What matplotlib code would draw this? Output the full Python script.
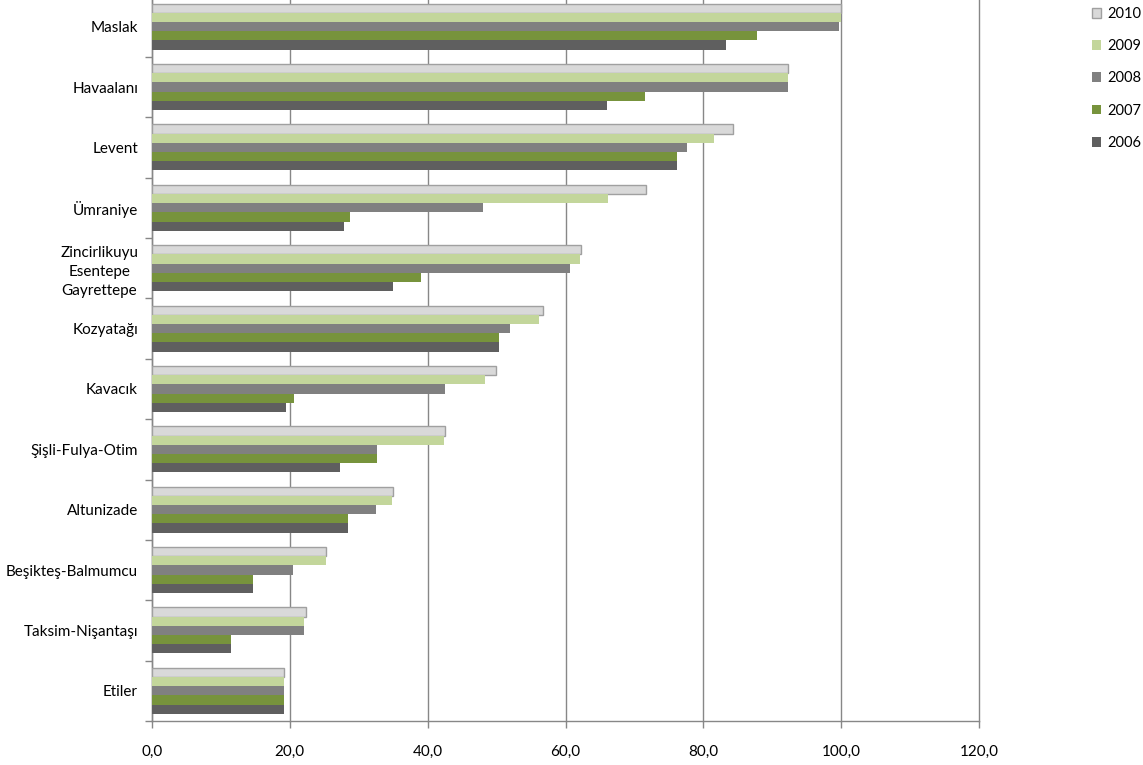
import matplotlib.pyplot as plt
import numpy as np
from matplotlib.ticker import FuncFormatter, FixedLocator

plt.rcParams['font.family'] = ['Lato', 'DejaVu Sans']

# office districts, top to bottom
districts = ['Maslak', 'Havaalanı', 'Levent', 'Ümraniye',
             'Zincirlikuyu\nEsentepe\nGayrettepe', 'Kozyatağı', 'Kavacık',
             'Şişli-Fulya-Otim', 'Altunizade', 'Beşikteş-Balmumcu',
             'Taksim-Nişantaşı', 'Etiler']

v2010 = [100.0, 92.3, 84.3, 71.7, 62.2, 56.7, 49.9, 42.5, 34.9, 25.2, 22.4, 19.1]
v2009 = [100.0, 92.3, 81.5, 66.2, 62.1, 56.2, 48.3, 42.3, 34.8, 25.3, 22.1, 19.1]
v2008 = [99.7, 92.3, 77.7, 48.0, 60.7, 51.9, 42.5, 32.6, 32.5, 20.4, 22.1, 19.1]
v2007 = [87.8, 71.5, 76.2, 28.8, 39.1, 50.3, 20.6, 32.6, 28.4, 14.7, 11.5, 19.1]
v2006 = [83.3, 66.0, 76.2, 27.9, 34.9, 50.3, 19.5, 27.3, 28.4, 14.7, 11.5, 19.1]

years = ['2010', '2009', '2008', '2007', '2006']
series = [v2010, v2009, v2008, v2007, v2006]
colors = ['#d9d9d9', '#c3d69b', '#808080', '#77933c', '#5f5f5f']
edges = ['#a0a0a0', 'none', 'none', 'none', 'none']

fig = plt.figure(figsize=(11.43, 7.65), dpi=100)
ax = fig.add_axes([152/1143, 44/765, 827/1143, 724.5/765])

y = np.arange(len(districts))
h = 0.152
handles = []
for k, (vals, c, ec, lab) in enumerate(zip(series, colors, edges, years)):
    b = ax.barh(y + (k - 2) * h, vals, height=h, color=c, edgecolor=ec,
                linewidth=1.0, label=lab, zorder=3)
    handles.append(b)

ax.set_xlim(0, 120)
ax.set_ylim(11.5, -0.5)

ax.xaxis.set_major_locator(FixedLocator(np.arange(0, 121, 20)))
ax.xaxis.set_major_formatter(FuncFormatter(lambda v, p: f'{v:.1f}'.replace('.', ',')))
ax.grid(axis='x', color='#878787', linewidth=1.0, zorder=0)
for gl in ax.get_xgridlines():
    gl.set_clip_on(False)

ax.set_yticks(y)
ax.set_yticklabels(districts)
ax.set_yticks(np.arange(-0.5, 12, 1), minor=True)
ax.tick_params(axis='y', which='major', length=0, pad=10, labelsize=11)
ax.tick_params(axis='y', which='minor', length=5, color='#878787', width=1)
ax.tick_params(axis='x', length=5, color='#878787', width=1, pad=12, labelsize=11)
for t in ax.get_yticklabels():
    if '\n' in t.get_text():
        t.set_multialignment('center')
        t.set_linespacing(1.45)

for s in ['top', 'right']:
    ax.spines[s].set_visible(False)
for s in ['left', 'bottom']:
    ax.spines[s].set_color('#878787')
    ax.spines[s].set_linewidth(1.0)

fig.legend(handles=handles, labels=years, loc='upper left',
           bbox_to_anchor=(1092/1143, 1 - 7/765), frameon=False,
           handlelength=0.65, handleheight=0.65, handletextpad=0.4,
           labelspacing=1.25, fontsize=10.5, borderpad=0, borderaxespad=0)

fig.savefig('out.png', dpi=100)
